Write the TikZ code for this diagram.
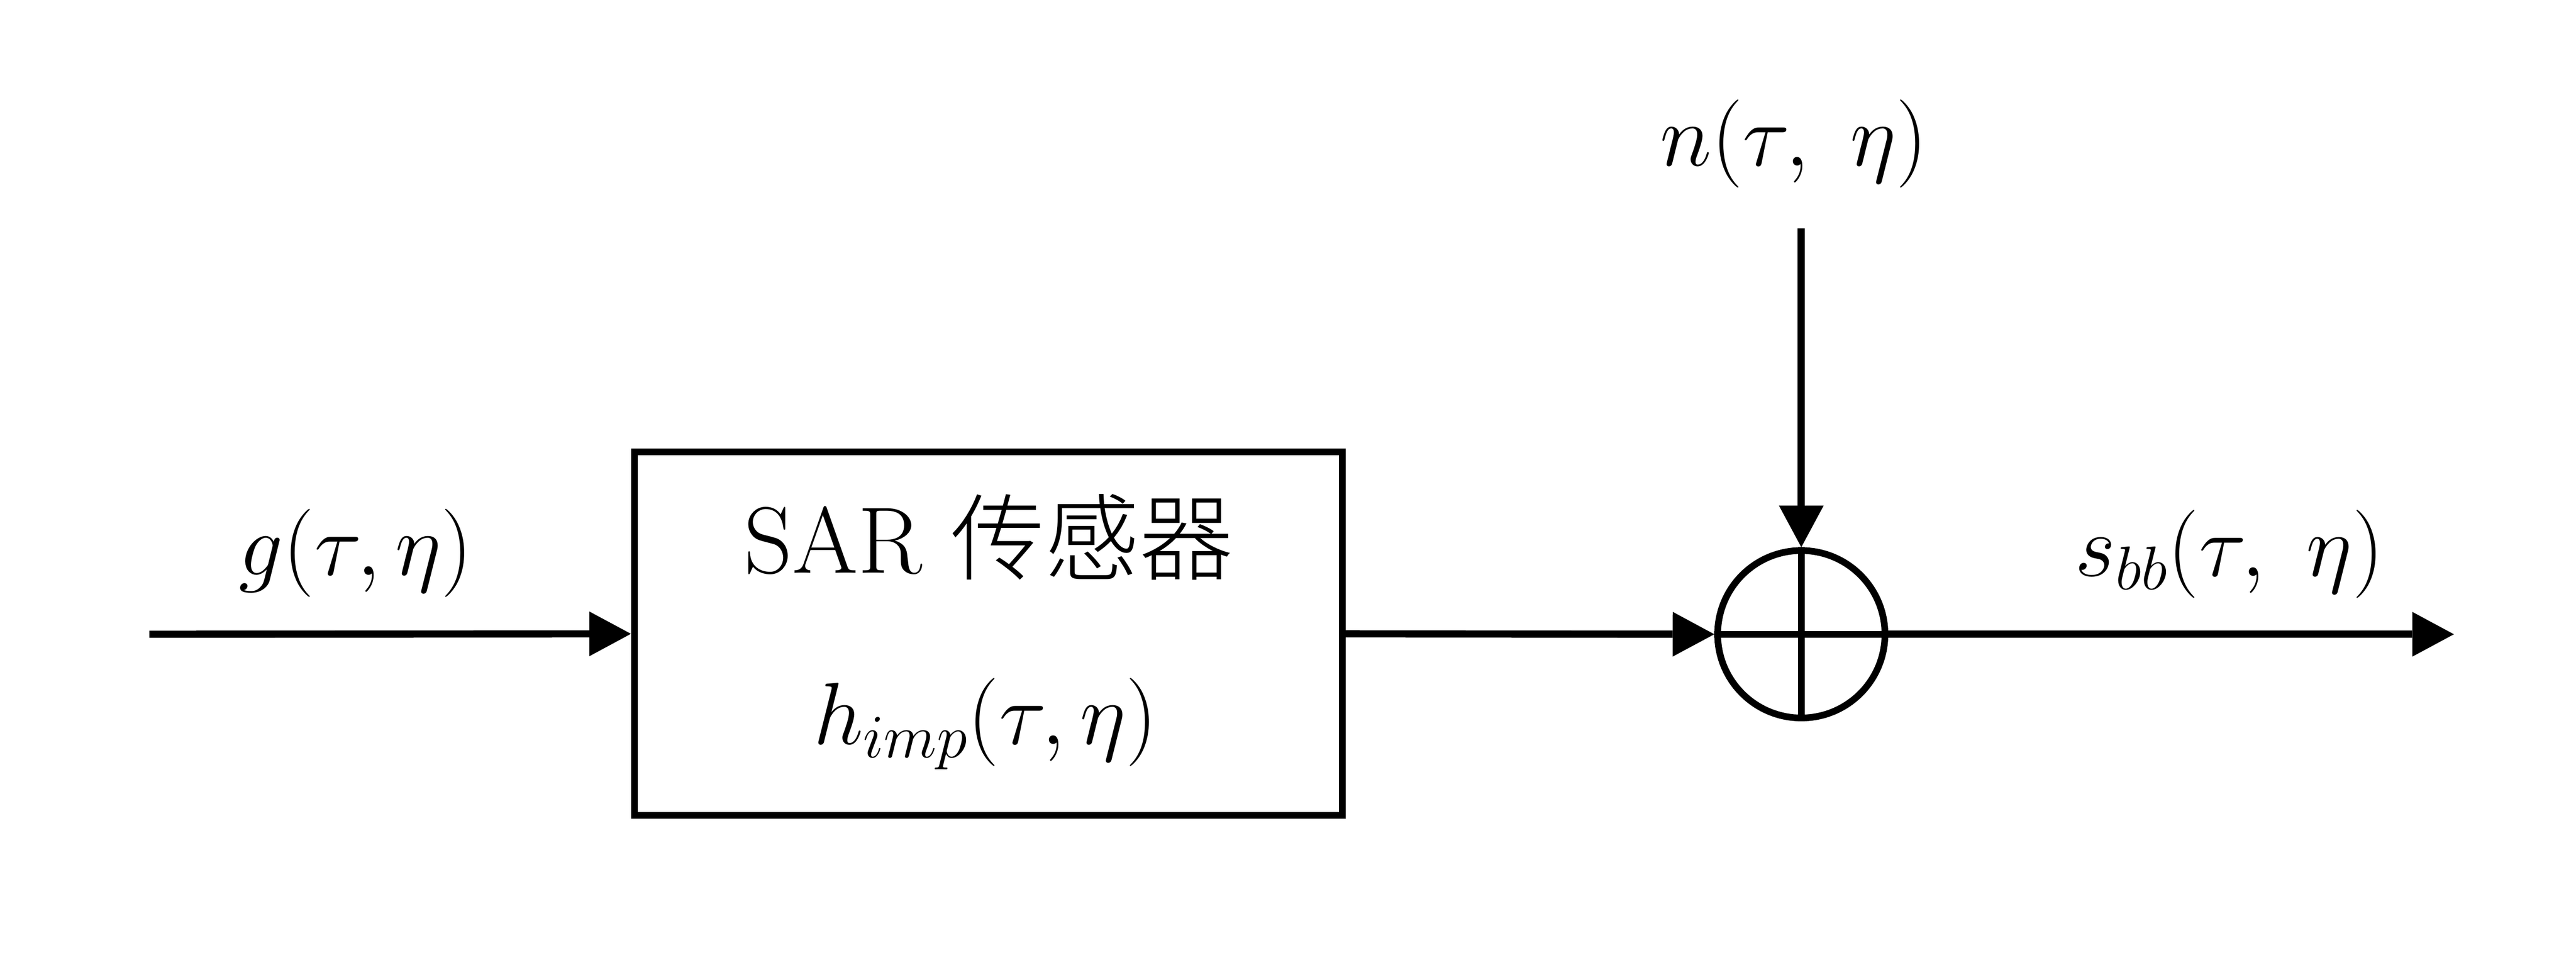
\RequirePackage{fix-cm}
\documentclass[tikz,border=0pt]{standalone}
\usepackage{fontspec}
\newfontfamily\serifl{Latin Modern Roman}
\newfontfamily\cjk{Noto Sans CJK SC Light}
\usetikzlibrary{arrows.meta}
\begin{document}
\begin{tikzpicture}[
  line width=0.16cm,
  arr/.style={-{Triangle[length=0.93cm,width=1.0cm,line width=0pt]}},
  mlabel/.style={anchor=base,inner sep=0pt,font=\fontsize{56}{60}\selectfont},
  tlabel/.style={anchor=base,inner sep=0pt,font=\fontsize{60}{64}\selectfont\serifl}
]
\useasboundingbox (0,0) rectangle (57.59,-21.49);
\node[draw,line width=0.15cm,minimum width=15.83cm,minimum height=8.12cm,inner sep=0pt] (box) at (22.095,-14.16) {};
\node[draw,circle,line width=0.15cm,minimum size=3.74cm,inner sep=0pt] (sum) at (40.27,-14.17) {};
\coordinate (in) at (3.34,-14.17);
\coordinate (out) at (54.86,-14.17);
\coordinate (top) at (40.27,-5.10);
\node[tlabel] (sar) at (22.11,-12.80) {SAR {\cjk 传感器}};
\node[mlabel] (h) at (22.03,-16.63) {$h_{imp}(\tau,\eta)$};
\node[mlabel] (g) at (7.95,-12.85) {$g(\tau,\eta)$};
\node[mlabel] (n) at (40.10,-3.70) {$n(\tau,\ \eta)$};
\node[mlabel] (s) at (49.84,-12.87) {$s_{bb}(\tau,\ \eta)$};
\draw[arr] (in) -- (box.west);
\draw[arr] (box.east) -- (sum.west);
\draw[arr] (sum.east) -- (out);
\draw[arr] (top) -- (sum.north);
\draw[line width=0.15cm] (sum.north) -- (sum.south);
\draw[line width=0.15cm] (sum.west) -- (sum.east);
\end{tikzpicture}
\end{document}
